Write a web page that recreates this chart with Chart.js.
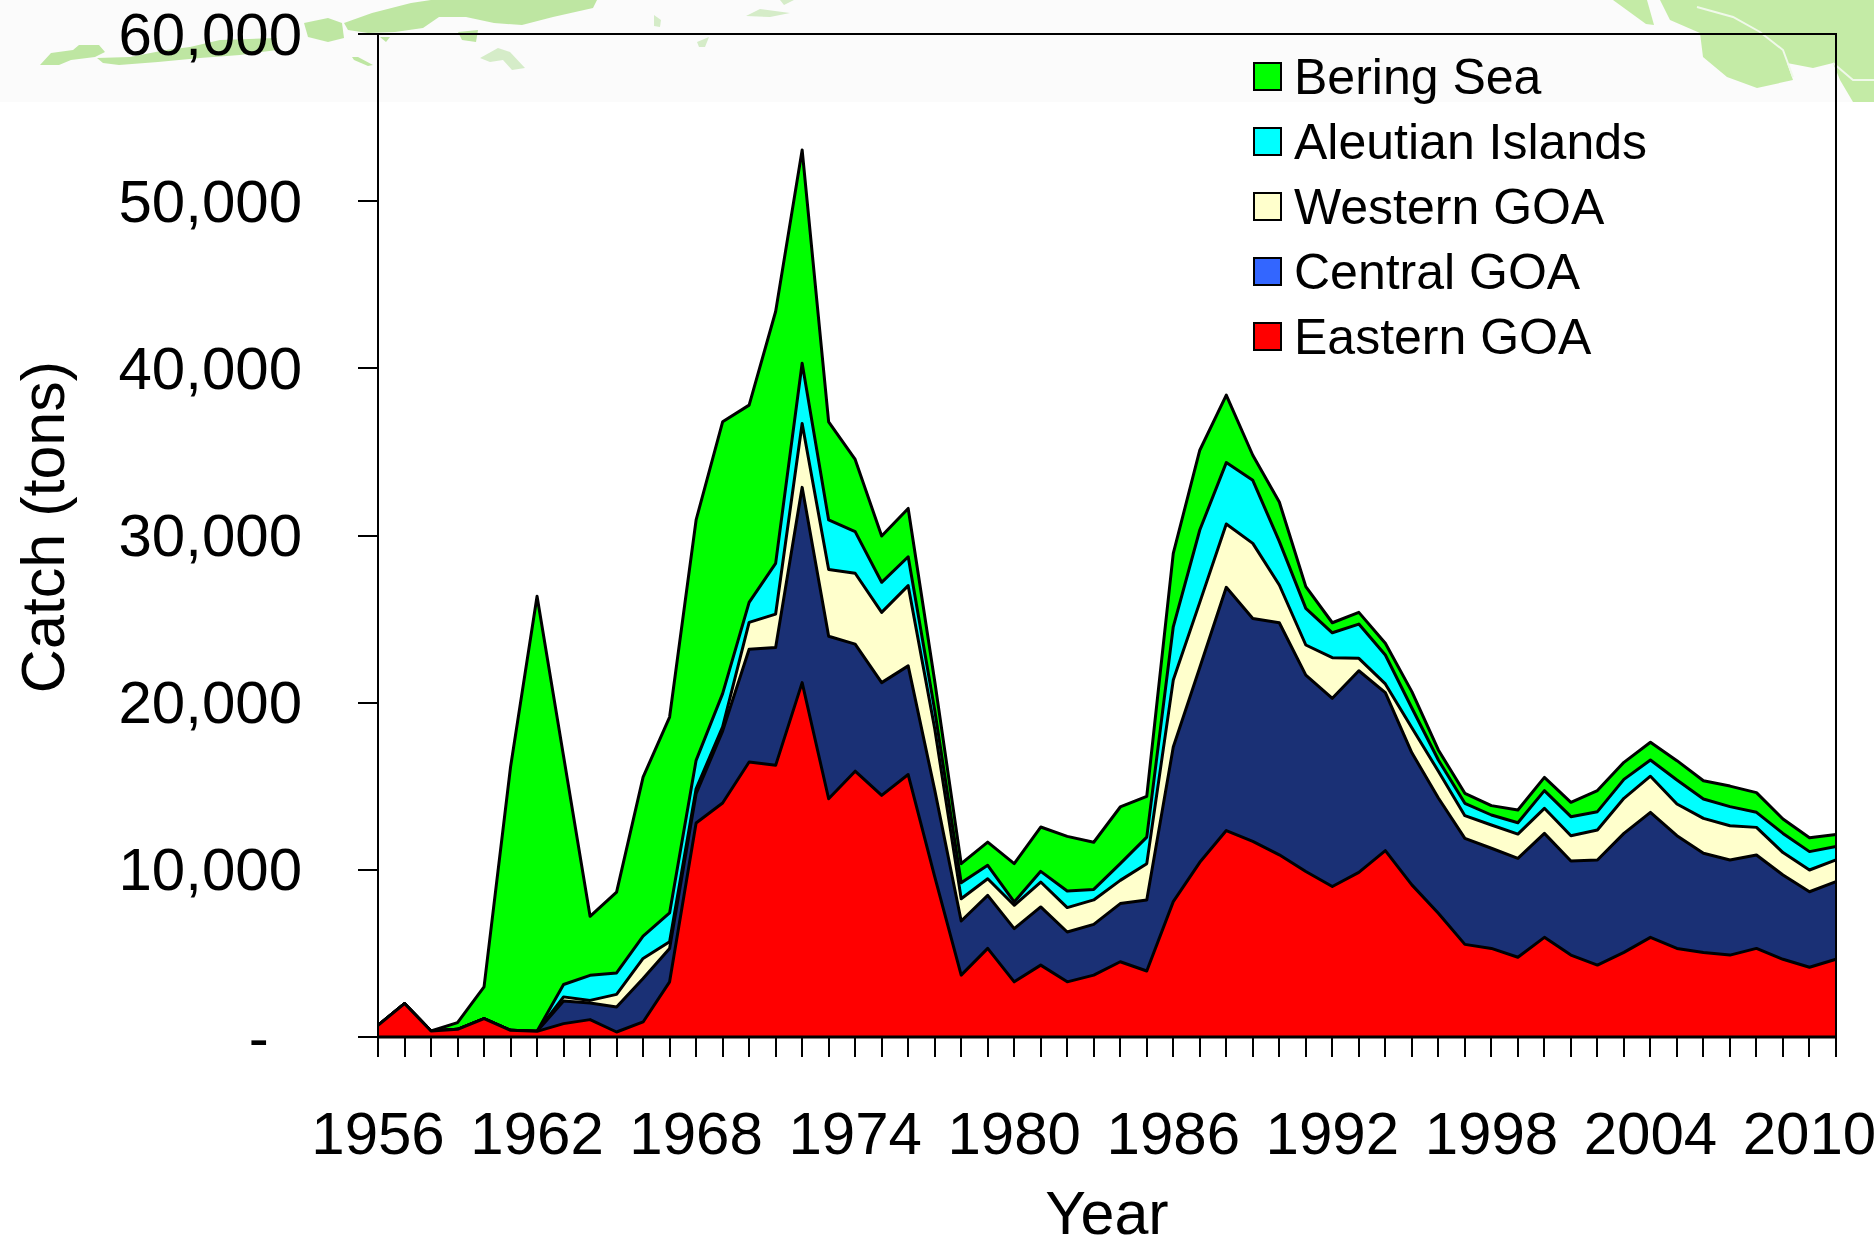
<!DOCTYPE html>
<html lang="en">
<head>
    <meta charset="UTF-8">
    <title>Catch by region</title>
    <script src="https://cdn.jsdelivr.net/npm/chart.js"></script>
    <style>
        body {
            margin: 0;
            background: #fff;
            font-family: "Liberation Sans", Arial, sans-serif;
        }
        #page {
            position: relative;
            width: 1874px;
            height: 1246px;
            overflow: hidden;
        }
        #map {
            position: absolute;
            left: 0;
            top: 0;
        }
        canvas {
            position: absolute;
            left: 0;
            top: 0;
        }
        #legend {
            position: absolute;
            left: 1253px;
            top: 44px;
        }
        .row {
            display: flex;
            align-items: center;
            height: 65px;
            font-size: 50px;
            color: #000;
        }
        .swatch {
            width: 25px;
            height: 25px;
            border: 2px solid #000;
            margin-right: 12px;
        }
    </style>
</head>
<body>
<div id="page">
    <!-- banner map behind the chart, decoration only -->
    <svg id="map" width="1874" height="102" viewBox="0 0 1874 102">
        <rect width="1874" height="102" fill="#fbfbfb"/>
        <g fill="#bee6a2">
            <path d="M40 65 L51 53 L73 50 L79 45 L99 45 L105 52 L95 57 L71 60 L59 65 Z"/>
            <path d="M97 58 L130 57 L166 50 L190 47 L220 40 L277 38 L277 50 L240 55 L200 58 L158 62 L119 65 L103 63 Z"/>
            <path d="M304 23 L328 18 L342 23 L344 38 L328 42 L308 37 Z"/>
            <path d="M344 23 L372 13 L411 3 L431 0 L597 0 L593 8 L553 17 L522 25 L494 23 L466 17 L439 17 L423 28 L395 32 L368 33 L348 30 Z"/>
            <path d="M458 32 L478 30 L476 42 L462 40 Z"/>
            <path d="M380 37 L390 37 L386 42 Z"/>
            <path d="M352 57 L358 57 L373 65 L368 66 L354 60 Z"/>
        </g>
        <g fill="#d5ecc8">
            <path d="M480 58 L498 48 L510 52 L525 68 L512 70 L503 60 L490 62 Z"/>
            <path d="M654 15 L661 20 L660 27 L654 26 Z"/>
            <path d="M697 42 L709 37 L705 47 L699 47 Z"/>
            <path d="M746 16 L760 9 L790 13 L770 17 Z"/>
            <path d="M780 0 L794 0 L784 5 Z"/>
        </g>
        <g fill="#c4eba6">
            <path d="M1613 0 L1647 0 L1654 25 L1646 24 Z"/>
            <path d="M1660 0 L1670 20 L1700 33 L1703 57 L1727 77 L1757 88 L1793 80 L1787 63 L1813 68 L1833 63 L1840 80 L1853 102 L1874 102 L1874 0 Z"/>
        </g>
        <g fill="none" stroke="#f0f9ea" stroke-width="2">
            <path d="M1697 7 L1733 17 L1760 32 L1783 50 L1793 77"/>
            <path d="M1833 63 L1853 80 L1874 80"/>
        </g>
    </svg>
    <canvas id="catchChart" width="1874" height="1246"></canvas>
    <div id="legend"></div>
</div>

<script>
    const years = [];
    for (let y = 1956; y <= 2011; y++) years.push(String(y));

    const xTickLabels = ['1956', '1962', '1968', '1974', '1980', '1986', '1992', '1998', '2004', '2010'];

    // catch in tons
    const easternGOA = [700, 2000, 360, 460, 1100, 400, 340, 800, 1040, 300,
        900, 3300, 12800, 14000, 16450, 16250, 21200, 14250, 15900, 14450,
        15700, 9600, 3700, 5300, 3300, 4300, 3300, 3700, 4500, 3950,
        8100, 10450, 12350, 11700, 10900, 9900, 9000, 9850, 11150, 9100,
        7400, 5540, 5300, 4770, 5960, 4900, 4300, 5060, 5960, 5300,
        5060, 4900, 5300, 4650, 4170, 4650];
    const centralGOA = [0, 0, 0, 0, 0, 0, 0, 1350, 990, 1500,
        2600, 2000, 1750, 4300, 6750, 7050, 11680, 9720, 7600, 6750,
        6500, 5180, 3240, 3170, 3180, 3480, 2980, 3040, 3480, 4250,
        9250, 11650, 14550, 13340, 13880, 11750, 11260, 12060, 9450, 7900,
        6900, 6340, 5990, 5920, 6220, 5630, 6290, 7120, 7480, 6740,
        5930, 5690, 5590, 5040, 4520, 4640];
    const westernGOA = [0, 0, 0, 0, 0, 0, 0, 250, 160, 750,
        1200, 400, 300, 250, 1600, 2000, 3820, 4000, 4240, 4200,
        4800, 3670, 1330, 1000, 1400, 1490, 1460, 1460, 1390, 2170,
        4000, 3900, 3790, 4490, 2260, 1800, 2430, 740, 520, 1500,
        1600, 1360, 1390, 1450, 1500, 1510, 1790, 2100, 2160, 1900,
        2090, 2050, 1650, 1340, 1300, 1300];
    const aleutianIslands = [0, 0, 0, 0, 0, 0, 0, 740, 1500, 1280,
        1340, 1720, 1700, 1990, 1200, 3030, 3600, 2960, 2490, 1800,
        1730, 1110, 960, 800, 200, 640, 990, 630, 1000, 1590,
        3190, 4330, 3670, 3770, 2610, 2190, 1490, 2050, 1730, 1180,
        670, 740, 600, 680, 1060, 1140, 1100, 1130, 970, 1430,
        1160, 1140, 900, 1150, 1100, 800];
    const beringSea = [0, 0, 0, 400, 1900, 15750, 26020, 13660, 3530, 4840,
        9510, 11720, 14380, 16260, 11800, 15070, 12760, 5870, 4320, 2770,
        2890, 1740, 1140, 1390, 2290, 2650, 3270, 2820, 3390, 2440,
        4390, 4770, 4040, 1500, 2350, 1300, 600, 700, 700, 980,
        600, 600, 560, 760, 790, 860, 1260, 1020, 1060, 1160,
        1090, 1230, 1180, 860, 830, 730];

    const seriesNames = ['Eastern GOA', 'Central GOA', 'Western GOA', 'Aleutian Islands', 'Bering Sea'];
    const seriesValues = [easternGOA, centralGOA, westernGOA, aleutianIslands, beringSea];
    const fillColors = ['#ff0000', '#1a3075', '#ffffcc', '#00ffff', '#00ff00'];
    // the legend key for Central GOA is a lighter blue than its area
    const legendColors = ['#ff0000', '#3366ff', '#ffffcc', '#00ffff', '#00ff00'];

    const tickFont = { family: '"Liberation Sans", Arial, sans-serif', size: 60 };
    const titleFont = { family: '"Liberation Sans", Arial, sans-serif', size: 61 };

    const plotBorder = {
        id: 'plotBorder',
        afterDatasetsDraw(chart) {
            const { ctx, chartArea: a } = chart;
            ctx.save();
            ctx.strokeStyle = '#000';
            ctx.lineWidth = 2;
            ctx.strokeRect(a.left, a.top, a.right - a.left, a.bottom - a.top);
            ctx.lineWidth = 3;
            ctx.beginPath();
            ctx.moveTo(a.left, a.bottom);
            ctx.lineTo(a.right, a.bottom);
            ctx.stroke();
            ctx.restore();
        }
    };

    new Chart(document.getElementById('catchChart'), {
        type: 'line',
        data: {
            labels: years,
            datasets: seriesNames.map((name, i) => ({
                label: name,
                data: seriesValues[i],
                backgroundColor: fillColors[i],
                borderColor: '#000',
                borderWidth: 3,
                borderJoinStyle: 'round',
                fill: i === 0 ? 'origin' : '-1',
                pointRadius: 0,
                tension: 0
            }))
        },
        options: {
            responsive: false,
            animation: false,
            layout: { padding: { top: 34, right: 38, left: 0, bottom: 0 } },
            plugins: { legend: { display: false }, tooltip: { enabled: false } },
            scales: {
                x: {
                    stacked: true,
                    offset: false,
                    afterFit(scale) {
                        scale.height = 209;
                        // the 2010 label may run to the page edge, as it does in the original
                        scale.paddingLeft = 0;
                        scale.paddingRight = 0;
                    },
                    border: { color: '#000', width: 2 },
                    grid: { drawOnChartArea: false, color: '#000', lineWidth: 2, tickLength: 20 },
                    ticks: {
                        autoSkip: false,
                        maxRotation: 0,
                        minRotation: 0,
                        padding: 44,
                        color: '#000',
                        font: tickFont,
                        callback(value) {
                            const label = this.getLabelForValue(value);
                            return xTickLabels.includes(label) ? label : '';
                        }
                    },
                    title: { display: true, text: 'Year', color: '#000', font: titleFont, padding: { top: 0, bottom: -8 } }
                },
                y: {
                    stacked: true,
                    min: 0,
                    max: 60000,
                    afterFit(scale) {
                        scale.width = 378;
                        // tick padding would otherwise push the plot down
                        scale.paddingTop = 0;
                        scale.paddingBottom = 0;
                    },
                    border: { color: '#000', width: 2 },
                    grid: { drawOnChartArea: false, color: '#000', lineWidth: 2, tickLength: 20 },
                    ticks: {
                        stepSize: 10000,
                        padding: 56,
                        labelOffset: 4,
                        color: '#000',
                        font: tickFont,
                        callback(value) {
                            return value === 0 ? '-  ' : value.toLocaleString('en-US');
                        }
                    },
                    title: { display: true, text: ' Catch (tons)', color: '#000', font: titleFont, padding: { top: 11, bottom: 0 } }
                }
            }
        },
        plugins: [plotBorder]
    });

    // legend reads top to bottom, the reverse of the stacking order
    const legend = document.getElementById('legend');
    for (let i = seriesNames.length - 1; i >= 0; i--) {
        const row = document.createElement('div');
        row.className = 'row';
        const swatch = document.createElement('span');
        swatch.className = 'swatch';
        swatch.style.background = legendColors[i];
        row.appendChild(swatch);
        row.appendChild(document.createTextNode(seriesNames[i]));
        legend.appendChild(row);
    }
</script>
</body>
</html>
